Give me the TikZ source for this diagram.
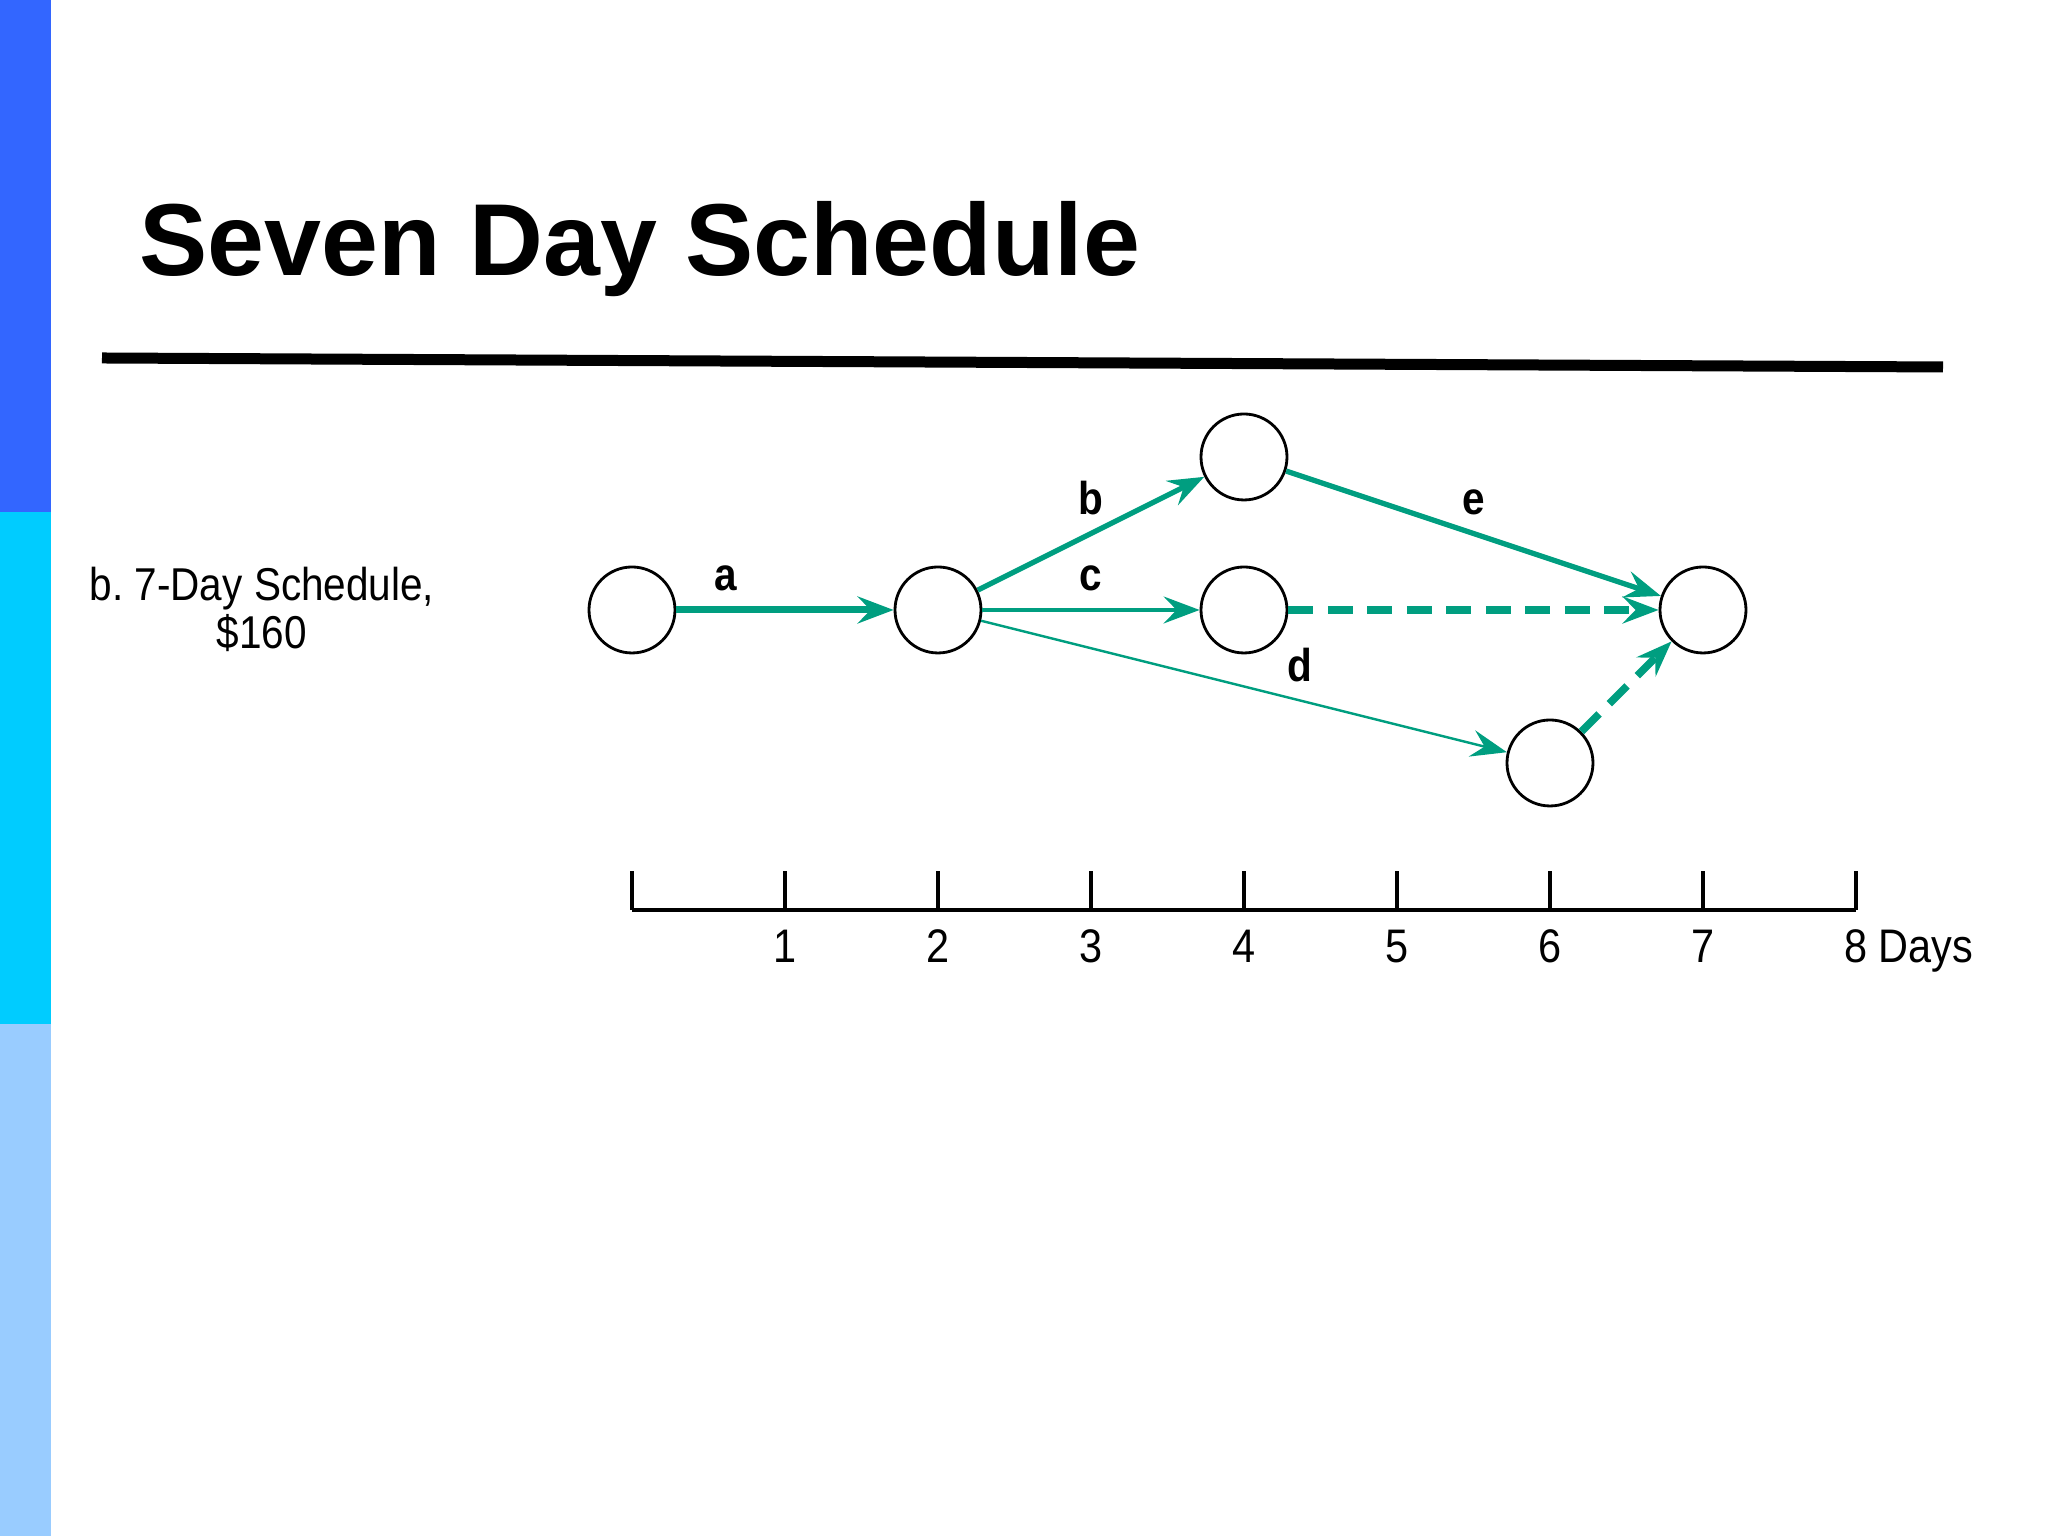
\documentclass[tikz,border=0pt]{standalone}
\usepackage{fontspec}
\setmainfont{Liberation Sans}
\newfontfamily\narrowfont[FakeStretch=0.88]{Liberation Sans}
\usetikzlibrary{arrows.meta}

\definecolor{barA}{RGB}{51,102,255}
\definecolor{barB}{RGB}{0,204,255}
\definecolor{barC}{RGB}{153,204,255}
\definecolor{act}{RGB}{0,158,128}

\tikzset{
  event/.style={circle, draw=black, line width=0.8pt, fill=white,
    minimum size=0.86cm, inner sep=0pt},
  tip/.style={-{Stealth[length=0.36cm, width=0.27cm, inset=0.13cm]}},
  crit/.style={tip, draw=act, line width=2pt},
  main/.style={tip, draw=act, line width=1.5pt},
  thin/.style={tip, draw=act, line width=0.9pt},
  dummy/.style={tip, draw=act, line width=2.2pt, dash pattern=on 0.25cm off 0.145cm},
  lab/.style={font=\narrowfont\bfseries\fontsize{13.1}{14}\selectfont,
    anchor=base, yshift=0.19cm, inner sep=0pt},
  daylab/.style={font=\narrowfont\fontsize{13.4}{14}\selectfont,
    anchor=base, inner sep=0pt},
  axis/.style={line width=0.9pt},
  title/.style={font=\bfseries\fontsize{29.1}{31}\selectfont,
    anchor=base west, inner sep=0pt}
}

\begin{document}
\begin{tikzpicture}[x=1cm,y=1cm]
\useasboundingbox (0,0) rectangle (20.48,15.36);

%% side bar
\fill[barA] (0,10.24) rectangle (0.51,15.36);
\fill[barB] (0,5.12) rectangle (0.51,10.24);
\fill[barC] (0,0) rectangle (0.51,5.12);

%% heading
\node[title] (head) at (1.39,12.60) {Seven Day Schedule};
\draw[line width=0.11cm] (1.02,11.78) -- (19.43,11.69);

\begin{scope}[shift={(6.32,9.26)}]
\newcommand\dayw{1.53cm};
\newcommand\rowh{1.53cm};

\node[align=center, anchor=base, font=\narrowfont\fontsize{13.1}{13.7}\selectfont]
  (caption) at (-3.70cm, -0.39cm) {b.\ 7-Day Schedule,\\\$160};

\node[event] (s0) at (0*\dayw, 0) {};
\node[event] (s2) at (2*\dayw, 0) {};
\node[event] (s4up) at (4*\dayw, 1*\rowh) {};
\node[event] (s4) at (4*\dayw, 0) {};
\node[event] (s6) at (6*\dayw, -1*\rowh) {};
\node[event] (s7) at (7*\dayw, 0) {};

\draw[crit] (s0) -- node[lab, pos=0.225] (la) {a} (s2);
\draw[main] (s2) -- node[lab] (lb) {b} (s4up);
\draw[thin] (s2) -- node[lab] (lc) {c} (s4);
\draw[thin, line width=0.7pt] (s2) -- node[lab, pos=0.607] (ld) {d} (s6);
\draw[main] (s4up) -- node[lab] (le) {e} (s7);
\draw[dummy] (s4) -- (s7);
\draw[dummy] (s6) -- (s7);

%% time axis
\draw[axis] (0,-3cm) -- (8*\dayw,-3cm);
\foreach \d in {0,...,8}
  \draw[axis] (\d*\dayw,-3cm) -- (\d*\dayw,-2.61cm);
\foreach \d in {1,...,8}
  \node[daylab] (day\d) at (\d*\dayw,-3.53cm) {\d};
\node[daylab, anchor=base west, xshift=0.10cm] (days) at (day8.base east) {Days};
\end{scope}

\end{tikzpicture}
\end{document}
